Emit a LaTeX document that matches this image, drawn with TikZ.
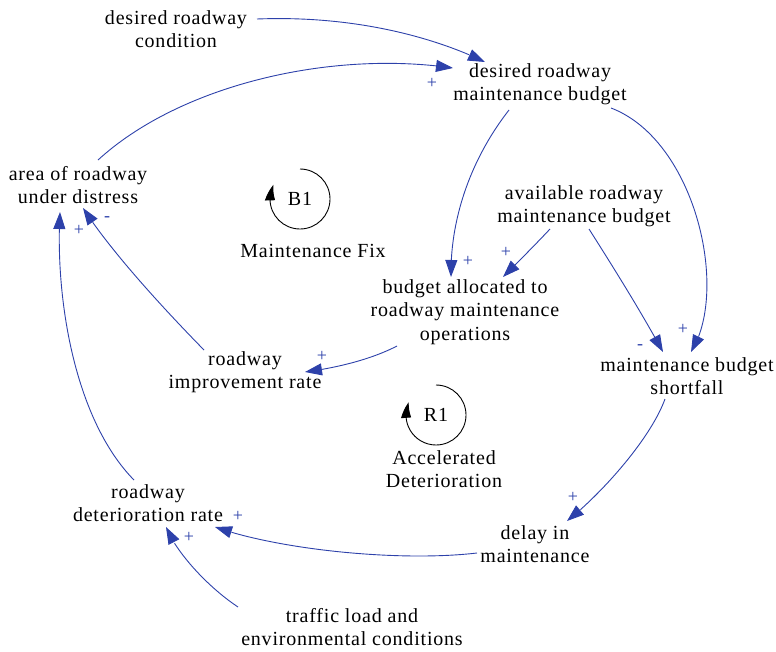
\documentclass[tikz,border=0pt]{standalone}
\usepackage{fontspec}
\setmainfont{Liberation Serif}[LetterSpace=4]
\usetikzlibrary{arrows.meta,bending}
\definecolor{cldblue}{RGB}{45,65,170}
\begin{document}
\begin{tikzpicture}[x=1pt,y=1pt,
  var/.style={align=center, inner sep=0pt, font=\fontsize{20}{23.5}\selectfont},
  link/.style={draw=cldblue, line width=0.9pt, -{Triangle[length=17pt,width=12pt]}},
  pol/.style={text=cldblue, inner sep=0pt, font=\fontsize{18}{18}\selectfont},
  loopar/.style={draw=black, line width=0.9pt, -{Triangle[length=16pt,width=10pt,bend]}},
  looplbl/.style={inner sep=0pt, font=\fontsize{20}{23.5}\selectfont}]
\useasboundingbox (0,0) rectangle (776,-651);

% variables
\node[var] (drc) at (176,-29) {desired roadway\\condition};
\node[var] (dmb) at (540,-84) {desired roadway\\maintenance budget};
\node[var] (area) at (78,-185) {area of roadway\\under distress};
\node[var] (avail) at (584,-206) {available roadway\\maintenance budget};
\node[var] (alloc) at (465,-312) {budget allocated to\\roadway maintenance\\operations};
\node[var] (impr) at (245,-372) {roadway\\improvement rate};
\node[var] (short) at (687,-376) {maintenance budget\\shortfall};
\node[var] (det) at (148,-503) {roadway\\deterioration rate};
\node[var] (delay) at (535,-544) {delay in\\maintenance};
\node[var] (traffic) at (352,-627) {traffic load and\\environmental conditions};

% loops
\node[looplbl] (b1) at (300,-199) {B1};
\draw[loopar] ([shift={(90:30pt)}]b1.center) arc[start angle=90, end angle=-208, radius=30pt];
\node[var] (b1name) at (313,-251) {Maintenance Fix};
\node[looplbl] (r1) at (436,-415) {R1};
\draw[loopar] ([shift={(90:30pt)}]r1.center) arc[start angle=90, end angle=-205, radius=30pt];
\node[var] (r1name) at (444,-469) {Accelerated\\Deterioration};

% links
\draw[link] ([shift={(81,10)}]drc.center) .. controls (360,-15) and (440,-40) .. ([shift={(-55,22)}]dmb.center);
\draw[link] ([shift={(20,25)}]area.center) .. controls (180,-85) and (330,-50) .. ([shift={(-87,16)}]dmb.center);
\draw[link] ([shift={(-31,-26)}]dmb.center) .. controls (470,-160) and (450,-220) .. ([shift={(-14,35)}]alloc.center);
\draw[link] ([shift={(71,-24)}]dmb.center) .. controls (695,-140) and (730,-290) .. ([shift={(4,24)}]short.center);
\draw[link] ([shift={(-34,-23)}]avail.center) .. controls (535,-245) and (520,-260) .. ([shift={(38,35)}]alloc.center);
\draw[link] ([shift={(5,-23)}]avail.center) .. controls (615,-270) and (640,-310) .. ([shift={(-24,24)}]short.center);
\draw[link] ([shift={(-68,-34)}]alloc.center) .. controls (370,-360) and (335,-368) .. ([shift={(60,0)}]impr.center);
\draw[link] ([shift={(-41,22)}]impr.center) .. controls (160,-305) and (110,-250) .. ([shift={(5,-23)}]area.center);
\draw[link] ([shift={(-14,23)}]det.center) .. controls (75,-420) and (55,-300) .. ([shift={(-18,-27)}]area.center);
\draw[link] ([shift={(-22,-23)}]short.center) .. controls (650,-440) and (600,-495) .. ([shift={(32,23)}]delay.center);
\draw[link] ([shift={(-58,-9)}]delay.center) .. controls (400,-562) and (280,-550) .. ([shift={(67,-24)}]det.center);
\draw[link] ([shift={(-114,20)}]traffic.center) .. controls (205,-585) and (175,-550) .. ([shift={(18,-24)}]det.center);

% polarities
\node[pol] (p2) at (432,-83) {+};
\node[pol] (p3) at (468,-261) {+};
\node[pol] (p5) at (506,-252) {+};
\node[pol] (p6) at (640,-347) {-};
\node[pol] (p4) at (683,-329) {+};
\node[pol] (p7) at (322,-356) {+};
\node[pol] (p8) at (107,-219) {-};
\node[pol] (p9) at (79,-230) {+};
\node[pol] (p10) at (573,-497) {+};
\node[pol] (p11) at (238,-516) {+};
\node[pol] (p12) at (189,-537) {+};
\end{tikzpicture}
\end{document}
